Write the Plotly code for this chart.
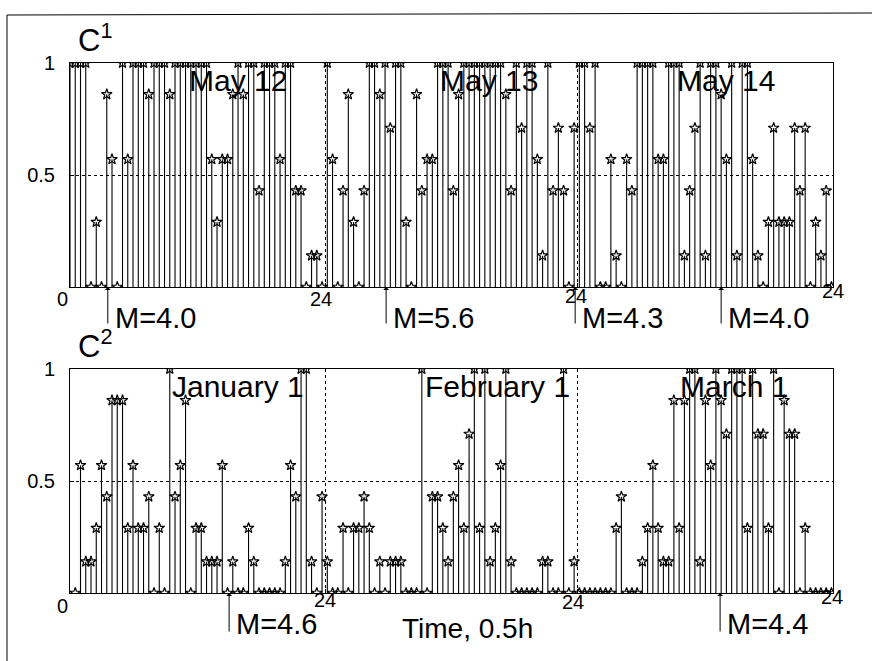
import plotly.graph_objects as go

# ---- data ----
c1_x = list(range(0, 146))
c1_values = [
    1, 1, 1, 1,
    0, .29, 0, .86, .57, 0,
    1, .57, 1, 1, 1, .86,
    1, 1, 1, .86,
    1, 1, 1, 1, 1, 1, 1,
    .57, .29, .57, .57, .86, 1, .86, 1, 1,
    .43, 1, 1, 1, .57, 1, 1, .43, .43, 0, .14, .14, 0, 1, .57, 0, .43, .86, .29, 0,
    .43, 1, 1, .86, 1, .71, 1, 1, .29, 0, .86, .43, .57, .57, 1,
    1, 1, .43, .86, 1, 1, 1, 1, 1, 1, 1, 1, .86, .43, 1, .71, 1, 1, .57, .14, 1,
    .43, .71, .43, 0, .71, 1, 1, .71, 1, 0, 0, .57, .14, 0, .57, .43,
    1, 1, 1, 1, .57, .57, 1, 1, 1, .14, .43, .71, 1, .14, 1, 1, .86, .57, 1, .14,
    1, 1, .57, .14, 0, .29, .71, .29, .29, .29, .71, .43, .71, 0, .29, .14, .43, 0,
]
c2_x = list(range(1, 146))
c2_values = [
    0, .57, .14, .14, .29, .57, .43, .86, .86, .86,
    .29, .57, .29, .29, .43, 0, .29, 0, 1, .43,
    .57, .86, 0, .29, .29, .14, .14, .14, .57, 0,
    .14, 0, 0, .29, .14, 0, 0, 0, 0, 0,
    .14, .57, .43, 1, 1, .14, 0, .43, .14, 0,
    0, .29, 0, .29, .29, .43, .29, 0, .14, 0,
    .14, .14, .14, 0, 0, 0, 1, 0, .43, .43,
    .29, .14, .43, .57, .29, .71, 1, .29, 1, .14,
    .29, .57, 1, .14, 0, 0, 0, 0, 0, .14,
    .14, 0, 0, 1, 0, .14, 0, 0, 0, 0,
    0, 0, 0, .29, .43, 0, 0, 0, .14, .29,
    .57, .29, .14, .14, .86, .29, .86, 1, 1, .14,
    .86, .57, 1, .86, .71, 1, 1, 1, .29, 1,
    .71, .71, .29, 1, 0, .86, .71, .71, 0, .29,
    0, 0, 0, 0, 0,
]
day_bounds = [48.6, 96.6]
c1_days = ["May 12", "May 13", "May 14"]
c1_day_x = [22.3, 70.1, 115.2]
c2_days = ["January 1", "February 1", "March 1"]
c2_day_x = [19.0, 67.2, 115.8]
c1_M_labels = ["M=4.0", "M=5.6", "M=4.3", "M=4.0"]
c1_M_x = [7.2, 60.2, 96.2, 124.0]
c2_M_labels = ["M=4.6", "M=4.4"]
c2_M_x = [30.3, 123.8]

FONT = "Liberation Sans, Arial, sans-serif"
W, H = 879, 661
L, R, T, B = 70, 833, 63, 593


def pxx(x):
    return (x - L) / (R - L)


def pxy(y):
    return (B - y) / (B - T)


fig = go.Figure()

for xs, vals, xa, ya in [(c1_x, c1_values, "x", "y"), (c2_x, c2_values, "x2", "y2")]:
    fig.add_trace(go.Scatter(
        x=xs, y=vals, mode="markers", xaxis=xa, yaxis=ya,
        marker=dict(symbol="star-open", size=8, color="black",
                    line=dict(color="black", width=1.2)),
        error_y=dict(type="data", symmetric=False, array=[0] * len(vals),
                     arrayminus=vals, width=0, thickness=1.1, color="black"),
        showlegend=False, hoverinfo="skip",
    ))

axis_common = dict(range=[0, 145.3], showline=True, linecolor="black", linewidth=1,
                   mirror=True, tickvals=day_bounds, showticklabels=False,
                   ticks="inside", ticklen=4, tickcolor="black",
                   showgrid=True, gridcolor="black", gridwidth=1, griddash="dot",
                   zeroline=False)
yaxis_common = dict(range=[0, 1], showline=True, linecolor="black", linewidth=1,
                    mirror=True, tickvals=[0.5, 1], ticktext=["0.5", "1"],
                    ticks="inside", ticklen=4, tickcolor="black",
                    showgrid=True, gridcolor="black", gridwidth=1, griddash="dot",
                    zeroline=False, tickfont=dict(family=FONT, size=20, color="black"),
                    ticklabelstandoff=10)

fig.update_layout(
    width=W, height=H,
    margin=dict(l=L, r=W - R, t=T, b=H - B),
    paper_bgcolor="white", plot_bgcolor="white",
    xaxis=dict(domain=[0, 1], anchor="y", **axis_common),
    yaxis=dict(domain=[306 / 530, 1], anchor="x", **yaxis_common),
    xaxis2=dict(domain=[0, 1], anchor="y2", **axis_common),
    yaxis2=dict(domain=[0, 224 / 530], anchor="x2", **yaxis_common),
    font=dict(family=FONT, color="black"),
)

ann = []
big = 30
for name, xv in zip(c1_days, c1_day_x):
    ann.append(dict(x=xv, y=0.92, xref="x", yref="y", text=name, showarrow=False,
                    xanchor="left", yanchor="middle", font=dict(size=big)))
for name, xv in zip(c2_days, c2_day_x):
    ann.append(dict(x=xv, y=0.92, xref="x2", yref="y2", text=name, showarrow=False,
                    xanchor="left", yanchor="middle", font=dict(size=big)))

# M arrows and labels
for lab, xv in zip(c1_M_labels, c1_M_x):
    ann.append(dict(x=xv, y=0, xref="x", yref="y", ax=0, ay=38, axref="pixel", ayref="pixel",
                    text="", showarrow=True, arrowhead=1, arrowsize=1, arrowwidth=1,
                    arrowcolor="black", standoff=0, startstandoff=0))
    ann.append(dict(x=xv, y=0, xref="x", yref="y", xshift=5, yshift=-31, text=lab,
                    showarrow=False, xanchor="left", yanchor="middle", font=dict(size=29)))
for lab, xv in zip(c2_M_labels, c2_M_x):
    ann.append(dict(x=xv, y=0, xref="x2", yref="y2", ax=0, ay=40, axref="pixel", ayref="pixel",
                    text="", showarrow=True, arrowhead=1, arrowsize=1, arrowwidth=1,
                    arrowcolor="black", standoff=0, startstandoff=0))
    ann.append(dict(x=xv, y=0, xref="x2", yref="y2", xshift=5, yshift=-31, text=lab,
                    showarrow=False, xanchor="left", yanchor="middle", font=dict(size=29)))

# "0" and "24" labels
for (x, y, t) in [(62, 299, "0"), (321, 299, "24"), (576, 296, "24"), (833, 291, "24"),
                  (62, 606, "0"), (325, 600, "24"), (573, 602, "24"), (832, 597, "24")]:
    ann.append(dict(x=pxx(x), y=pxy(y), xref="paper", yref="paper", text=t, showarrow=False,
                    xanchor="center", yanchor="middle", font=dict(size=20)))

# C1 / C2 labels
ann.append(dict(x=pxx(76), y=pxy(38), xref="paper", yref="paper", text="C<sup>1</sup>",
                showarrow=False, xanchor="left", yanchor="middle", font=dict(size=31)))
ann.append(dict(x=pxx(76), y=pxy(344), xref="paper", yref="paper", text="C<sup>2</sup>",
                showarrow=False, xanchor="left", yanchor="middle", font=dict(size=31)))

ann.append(dict(x=pxx(467), y=pxy(628), xref="paper", yref="paper", text="Time, 0.5h",
                showarrow=False, xanchor="center", yanchor="middle", font=dict(size=28)))

fig.update_layout(annotations=ann)

# outer frame (top and left edges)
fig.add_shape(type="line", xref="paper", yref="paper", x0=pxx(7), x1=pxx(872),
              y0=pxy(15), y1=pxy(13), line=dict(color="black", width=1))
fig.add_shape(type="line", xref="paper", yref="paper", x0=pxx(7), x1=pxx(7),
              y0=pxy(15), y1=pxy(665), line=dict(color="black", width=1))

fig.write_html("out.html", config={"displayModeBar": False},
               post_script="document.body.style.margin='0px';document.body.style.overflow='hidden';")
